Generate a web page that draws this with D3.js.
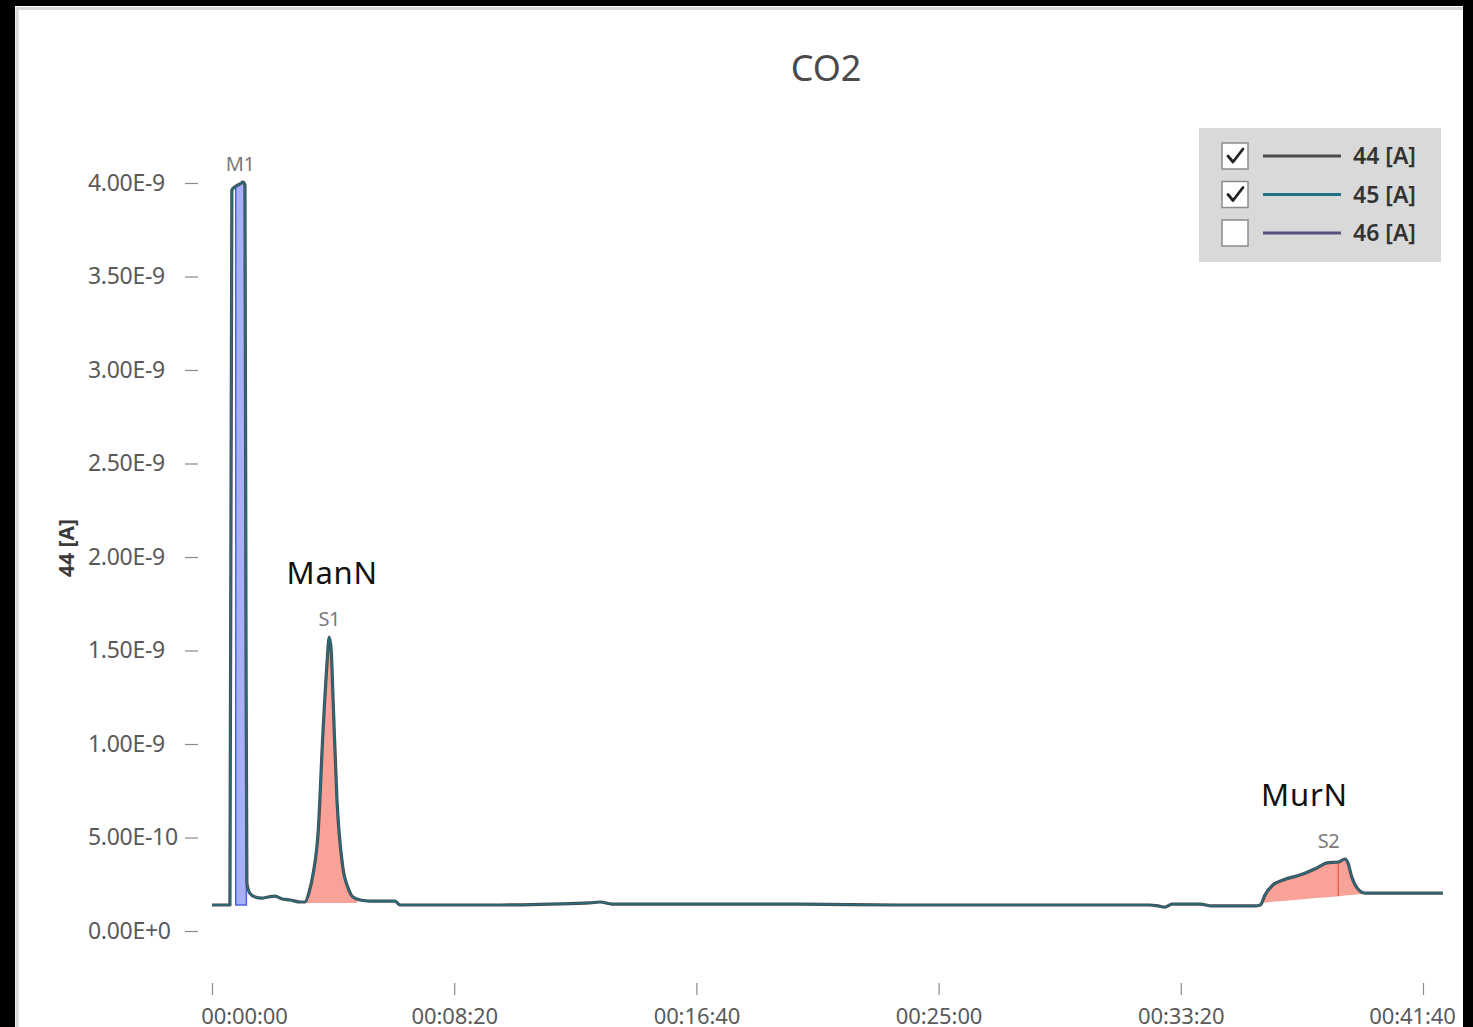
<!DOCTYPE html>
<html>
<head>
<meta charset="utf-8">
<script src="https://cdn.jsdelivr.net/npm/d3@7"></script>
<style>
  html, body { margin: 0; padding: 0; background: #000; }
  svg { display: block; }
</style>
</head>
<body>
<svg id="chart" width="1473" height="1027"></svg>
<script>
// ---------- DATA ----------
const title = "CO2";
const yAxisLabel = "44 [A]";
// time in seconds
const times = [0, 35, 37, 41, 50, 58, 64, 68, 70, 72, 78, 89, 103, 116, 130, 145, 161, 182,
  192, 200, 209, 219, 229, 237, 242, 246, 250, 258, 270, 281, 291, 306, 326, 357, 378, 388,
  491, 595, 698, 780, 801, 826, 1007, 1214, 1420, 1627, 1833, 1936, 1953, 1967, 1982, 2040,
  2064, 2153, 2164, 2174, 2190, 2211, 2246, 2281, 2302, 2325, 2339, 2345, 2353, 2364, 2380, 2460, 2541];
// signal of 44 [A] (in A); 45 [A] overlaps it on this picture
const signal44 = [0.139, 0.139, 0.139, 3.963, 3.984, 3.995, 4.005, 3.989, 1.770, 0.257, 0.203, 0.182,
  0.176, 0.182, 0.187, 0.171, 0.166, 0.155,
  0.155, 0.203, 0.310, 0.524, 1.059, 1.412, 1.572, 1.503, 1.235, 0.701, 0.342, 0.230, 0.182, 0.166,
  0.160, 0.160, 0.160, 0.139,
  0.139, 0.139, 0.144, 0.150, 0.155, 0.144, 0.144, 0.144, 0.139, 0.139, 0.139, 0.139, 0.134, 0.128,
  0.144, 0.144, 0.134, 0.134, 0.139, 0.193, 0.246, 0.273, 0.299, 0.337, 0.364, 0.369, 0.385, 0.364,
  0.289, 0.230, 0.203, 0.203, 0.203].map(v => v * 1e-9);
const signal45 = signal44.slice();

// peaks: name, start time, end time, baseline at start/end (A), kind, apex marker time, label time
const peakNames = ["M1", "S1", "S2"];
const peakStart = [49, 192, 2163];
const peakEnd = [71, 300, 2378];
const peakBase0 = [0.139e-9, 0.150e-9, 0.150e-9];
const peakBase1 = [0.139e-9, 0.150e-9, 0.198e-9];
const peakKind = ["marker", "sample", "sample"];
const peakApex = [null, null, 2325];
const peakLabelTime = [58, 242, 2305];

const annotations = ["ManN", "MurN"];
const annotationPeaks = ["S1", "S2"];

const yTicks = [0, 0.5e-9, 1.0e-9, 1.5e-9, 2.0e-9, 2.5e-9, 3.0e-9, 3.5e-9, 4.0e-9];
const yTickLabels = ["0.00E+0", "5.00E-10", "1.00E-9", "1.50E-9", "2.00E-9", "2.50E-9", "3.00E-9", "3.50E-9", "4.00E-9"];
const xTicks = [0, 500, 1000, 1500, 2000, 2500];
const xTickLabels = ["00:00:00", "00:08:20", "00:16:40", "00:25:00", "00:33:20", "00:41:40"];

const legendNames = ["44 [A]", "45 [A]", "46 [A]"];
const legendChecked = [true, true, false];

// ---------- STYLE ----------
const seriesColors = ["#4a4a4a", "#1f7389", "#5b4f80"];
const fillColors = { marker: "#a7b0f8", sample: "#f9a298" };
const strokeColors = { marker: "#4a62e0", sample: "#e0584a" };
const font = "'Noto Sans', 'Open Sans', sans-serif";

// ---------- DRAW ----------
const svg = d3.select("#chart");

// frame
svg.append("rect").attr("x", 15).attr("y", 6).attr("width", 1448).attr("height", 1030).attr("fill", "#fff");
svg.append("path").attr("d", "M17,1027 V8.5 H1463").attr("fill", "none").attr("stroke", "#d8d8d8").attr("stroke-width", 3);

const x = d3.scaleLinear().domain([0, 2500]).range([212, 1423]);
const y = d3.scaleLinear().domain([0, 4e-9]).range([931, 183]);

// title
svg.append("text").attr("x", 826).attr("y", 81).attr("text-anchor", "middle")
  .attr("font-family", font).attr("font-size", 36).attr("fill", "#4a4a4a").text(title);

// y axis (labels left-aligned as in the reference)
const yAxis = d3.axisLeft(y).tickValues(yTicks).tickSize(13).tickPadding(17)
  .tickFormat((d, i) => yTickLabels[i]);
const gy = svg.append("g").attr("transform", "translate(198,0)").call(yAxis);
gy.select(".domain").remove();
gy.selectAll(".tick line").attr("stroke", "#8a8a8a").attr("stroke-width", 1.2);
gy.selectAll(".tick text").attr("font-family", font).attr("font-size", 23).attr("fill", "#5a5a5a")
  .attr("letter-spacing", -0.3).attr("text-anchor", "start").attr("x", 88 - 198);

svg.append("text").attr("transform", "translate(74,548) rotate(-90)").attr("text-anchor", "middle")
  .attr("font-family", font).attr("font-size", 21).attr("font-weight", "bold").attr("fill", "#3a3a3a")
  .text(yAxisLabel);

// x axis
const xAxis = d3.axisBottom(x).tickValues(xTicks).tickSize(12).tickPadding(13)
  .tickFormat((d, i) => xTickLabels[i]);
const gx = svg.append("g").attr("transform", "translate(0,983)").call(xAxis);
gx.select(".domain").remove();
gx.selectAll(".tick line").attr("stroke", "#8a8a8a").attr("stroke-width", 1.2);
gx.selectAll(".tick text").attr("font-family", font).attr("font-size", 22).attr("fill", "#5a5a5a")
  .attr("letter-spacing", -0.1)
  .attr("dx", (d, i) => i === 0 ? 32 : (i === xTicks.length - 1 ? -11 : 0));

// interpolation helper over the signal
function valueAt(t) {
  const i = d3.bisectLeft(times, t);
  if (i <= 0) return signal44[0];
  if (i >= times.length) return signal44[times.length - 1];
  const t0 = times[i - 1], t1 = times[i];
  const f = (t - t0) / (t1 - t0);
  return signal44[i - 1] + f * (signal44[i] - signal44[i - 1]);
}

// peak fills
peakNames.forEach((name, k) => {
  const s = peakStart[k], e = peakEnd[k];
  const pts = [s].concat(times.filter(t => t > s && t < e)).concat([e]);
  const base = t => peakBase0[k] + (t - s) / (e - s) * (peakBase1[k] - peakBase0[k]);
  const area = d3.area().x(t => x(t)).y0(t => y(base(t))).y1(t => y(valueAt(t)));
  const kind = peakKind[k];
  svg.append("path").attr("d", area(pts)).attr("fill", fillColors[kind])
    .attr("stroke", kind === "marker" ? strokeColors.marker : "none")
    .attr("stroke-width", 1.5);
  if (peakApex[k] !== null) {
    const ta = peakApex[k];
    svg.append("line").attr("x1", x(ta)).attr("x2", x(ta))
      .attr("y1", y(valueAt(ta))).attr("y2", y(base(ta)))
      .attr("stroke", strokeColors.sample).attr("stroke-width", 1.2);
  }
});

// traces
const line = d3.line().x((d, i) => x(times[i])).y(d => y(d)).curve(d3.curveMonotoneX);
svg.append("path").attr("d", line(signal44)).attr("fill", "none")
  .attr("stroke", seriesColors[0]).attr("stroke-width", 3.2).attr("stroke-linejoin", "round");
svg.append("path").attr("d", line(signal45)).attr("fill", "none")
  .attr("stroke", seriesColors[1]).attr("stroke-width", 1.6).attr("stroke-linejoin", "round")
  .attr("opacity", 0.85);

// peak labels
peakNames.forEach((name, k) => {
  const idx = d3.range(times.length).filter(i => times[i] >= peakStart[k] && times[i] <= peakEnd[k]);
  const top = d3.max(idx, i => signal44[i]);
  const tMid = peakLabelTime[k];
  svg.append("text").attr("x", x(tMid)).attr("y", y(top) - 11).attr("text-anchor", "middle")
    .attr("font-family", font).attr("font-size", 20).attr("fill", "#7a7a7a").attr("letter-spacing", -0.5)
    .text(name);
  const ai = annotationPeaks.indexOf(name);
  if (ai >= 0) {
    svg.append("text").attr("x", x(tMid) + (name === "S2" ? -24 : 3)).attr("y", y(top) - 53)
      .attr("text-anchor", "middle").attr("font-family", font).attr("font-size", 31)
      .attr("fill", "#111").attr("letter-spacing", 0.8).text(annotations[ai]);
  }
});

// legend
const lg = svg.append("g");
lg.append("rect").attr("x", 1199).attr("y", 128).attr("width", 242).attr("height", 134).attr("fill", "#d9d9d9");
const rowY = d3.scalePoint().domain(legendNames).range([156, 233]);
legendNames.forEach((n, i) => {
  const cy = rowY(n);
  lg.append("rect").attr("x", 1222).attr("y", cy - 13).attr("width", 26).attr("height", 26)
    .attr("fill", "#fff").attr("stroke", "#8c8c8c").attr("stroke-width", 1.5);
  if (legendChecked[i]) {
    lg.append("path").attr("d", `M1228,${cy} L1233,${cy + 6} L1243,${cy - 7}`)
      .attr("fill", "none").attr("stroke", "#222").attr("stroke-width", 2.8)
      .attr("stroke-linecap", "round").attr("stroke-linejoin", "round");
  }
  lg.append("line").attr("x1", 1263).attr("x2", 1341).attr("y1", cy).attr("y2", cy)
    .attr("stroke", seriesColors[i]).attr("stroke-width", 3);
  lg.append("text").attr("x", 1353).attr("y", cy + 8).attr("font-family", font)
    .attr("font-size", 23).attr("font-weight", 600).attr("fill", "#333").text(n);
});
</script>
</body>
</html>
